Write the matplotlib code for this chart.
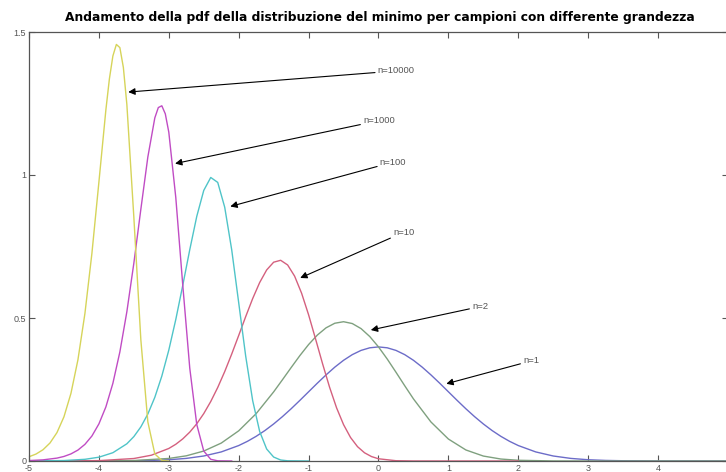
import matplotlib
matplotlib.use("Agg")
import matplotlib.pyplot as plt
import numpy as np

plt.rcParams['font.family'] = ['Liberation Sans', 'DejaVu Sans']
plt.rcParams['axes.unicode_minus'] = False

# pdf of the minimum of n standard normal samples, read at fixed abscissas
x_n1 = [-5, -4, -3.5, -3.25, -3, -2.75, -2.5, -2.25, -2, -1.875, -1.75, -1.625,
        -1.5, -1.375, -1.25, -1.125, -1, -0.875, -0.75, -0.625, -0.5, -0.375,
        -0.25, -0.125, 0, 0.125, 0.25, 0.375, 0.5, 0.625, 0.75, 0.875, 1, 1.125,
        1.25, 1.375, 1.5, 1.625, 1.75, 1.875, 2, 2.25, 2.5, 2.75, 3, 3.25, 3.5,
        4, 5]
y_n1 = [0.0, 0.0001, 0.0009, 0.0020, 0.0044, 0.0091, 0.0175, 0.0317, 0.0540,
        0.0688, 0.0863, 0.1065, 0.1295, 0.1550, 0.1826, 0.2119, 0.2420, 0.2721,
        0.3011, 0.3282, 0.3521, 0.3719, 0.3867, 0.3958, 0.3989, 0.3958, 0.3867,
        0.3719, 0.3521, 0.3282, 0.3011, 0.2721, 0.2420, 0.2119, 0.1826, 0.1550,
        0.1295, 0.1065, 0.0863, 0.0688, 0.0540, 0.0317, 0.0175, 0.0091, 0.0044,
        0.0020, 0.0009, 0.0001, 0.0]

x_n2 = [-5, -4, -3.5, -3, -2.75, -2.5, -2.25, -2, -1.75, -1.5, -1.375, -1.25,
        -1.125, -1, -0.875, -0.75, -0.625, -0.5, -0.375, -0.25, -0.125, 0,
        0.125, 0.25, 0.375, 0.5, 0.75, 1, 1.25, 1.5, 1.75, 2, 2.5, 3, 5]
y_n2 = [0.0, 0.0003, 0.0017, 0.0089, 0.0181, 0.0348, 0.0626, 0.1055, 0.1657,
        0.2417, 0.2838, 0.3266, 0.3685, 0.4072, 0.4403, 0.4657, 0.4817, 0.4870,
        0.4806, 0.4630, 0.4352, 0.3989, 0.3565, 0.3104, 0.2632, 0.2172, 0.1365,
        0.0768, 0.0386, 0.0173, 0.0069, 0.0025, 0.0002, 0.0, 0.0]

x_n10 = [-5, -4, -3.5, -3.25, -3, -2.9, -2.8, -2.7, -2.6, -2.5, -2.4, -2.3,
         -2.2, -2.1, -2, -1.9, -1.8, -1.7, -1.6, -1.5, -1.4, -1.3, -1.2, -1.1,
         -1, -0.9, -0.8, -0.7, -0.6, -0.5, -0.4, -0.3, -0.2, -0.1, 0, 0.25, 0.5,
         1, 2]
y_n10 = [0.0, 0.0013, 0.0087, 0.0202, 0.0438, 0.0585, 0.0774, 0.1010, 0.1302,
         0.1657, 0.2080, 0.2571, 0.3127, 0.3740, 0.4389, 0.5048, 0.5680, 0.6240,
         0.6680, 0.6951, 0.7018, 0.6855, 0.6463, 0.5865, 0.5111, 0.4264, 0.3399,
         0.2580, 0.1860, 0.1272, 0.0822, 0.0501, 0.0287, 0.0155, 0.0078, 0.0010,
         0.0001, 0.0, 0.0]

x_n100 = [-5, -4.5, -4.2, -4, -3.8, -3.6, -3.5, -3.4, -3.3, -3.2, -3.1, -3, -2.9,
          -2.8, -2.7, -2.6, -2.5, -2.4, -2.3, -2.2, -2.1, -2, -1.9, -1.8, -1.7,
          -1.6, -1.5, -1.4, -1.3, -1]
y_n100 = [0.0002, 0.0016, 0.0059, 0.0133, 0.0290, 0.0602, 0.0853, 0.1192, 0.1642,
          0.2227, 0.2968, 0.3877, 0.4948, 0.6145, 0.7389, 0.8553, 0.9460, 0.9914,
          0.9741, 0.8872, 0.7384, 0.5534, 0.3667, 0.2110, 0.1032, 0.0419, 0.0138,
          0.0035, 0.0007, 0.0]

x_n1000 = [-5, -4.8, -4.6, -4.5, -4.4, -4.3, -4.2, -4.1, -4, -3.9, -3.8, -3.7,
           -3.6, -3.5, -3.4, -3.3, -3.2, -3.15, -3.1, -3.05, -3, -2.9, -2.8,
           -2.7, -2.6, -2.5, -2.4, -2.3, -2.1]
y_n1000 = [0.0015, 0.0040, 0.0101, 0.0159, 0.0248, 0.0382, 0.0582, 0.0874, 0.1297,
           0.1893, 0.2716, 0.3814, 0.5220, 0.6917, 0.8800, 1.0627, 1.1998, 1.2358,
           1.2420, 1.2139, 1.1497, 0.9212, 0.6145, 0.3244, 0.1276, 0.0348, 0.0060,
           0.0006, 0.0]

x_n10000 = [-5, -4.9, -4.8, -4.7, -4.6, -4.5, -4.4, -4.3, -4.2, -4.1, -4, -3.9,
            -3.85, -3.8, -3.75, -3.7, -3.65, -3.6, -3.5, -3.4, -3.3, -3.2, -3.1, -3]
y_n10000 = [0.0148, 0.0243, 0.0393, 0.0629, 0.0993, 0.1545, 0.2363, 0.3538,
            0.5158, 0.7261, 0.9751, 1.2282, 1.3358, 1.4162, 1.4565, 1.4454, 1.3760,
            1.2466, 0.8522, 0.4241, 0.1369, 0.0247, 0.0020, 0.0]

curves = [(x_n1, y_n1), (x_n2, y_n2), (x_n10, y_n10),
          (x_n100, y_n100), (x_n1000, y_n1000), (x_n10000, y_n10000)]
colors = ['#6c6cc8', '#7fa07f', '#d4607e', '#4fc4c8', '#c04cc4', '#d6d45a']

labels = ['n=1', 'n=2', 'n=10', 'n=100', 'n=1000', 'n=10000']
# arrow tip on the curve, then where the label sits
arrow_tip = [(0.97, 0.27), (-0.11, 0.458), (-1.12, 0.64),
             (-2.12, 0.89), (-2.91, 1.04), (-3.58, 1.29)]
label_pos = [(2.07, 0.35), (1.34, 0.54), (0.21, 0.80),
             (0.02, 1.045), (-0.22, 1.19), (-0.01, 1.364)]


def main():
    fig = plt.figure(figsize=(7.26, 4.72), dpi=100)
    ax = fig.add_axes([29 / 726, 11 / 472, 699 / 726, 429 / 472])

    for (xs, ys), c in zip(curves, colors):
        ax.plot(xs, ys, color=c, lw=1.0)

    for lab, tip, pos in zip(labels, arrow_tip, label_pos):
        ax.annotate(lab, xy=tip, xytext=pos, fontsize=6.8, color='#555555',
                    ha='left', va='center',
                    arrowprops=dict(arrowstyle='-|>', color='black', lw=0.8,
                                    mutation_scale=10, shrinkA=0, shrinkB=0))

    ax.set_xlim(-5, 5)
    ax.set_ylim(0, 1.5)
    xt = np.arange(-5, 6, 1)
    ax.set_xticks(xt)
    # the last label falls past the right edge of the figure
    ax.set_xticklabels([str(v) for v in xt[:-1]] + [''])
    ax.set_yticks([0, 0.5, 1, 1.5])
    ax.set_yticklabels(['0', '0.5', '1', '1.5'])
    ax.tick_params(direction='in', top=True, right=True, length=4, width=0.8,
                   labelsize=6.5, labelcolor='#555555', color='#555555', pad=2)
    for s in ax.spines.values():
        s.set_color('#555555')
        s.set_linewidth(0.9)

    fig.text(0.523, 0.962,
             'Andamento della pdf della distribuzione del minimo per campioni con differente grandezza',
             ha='center', va='center', fontsize=8.8, fontweight='bold',
             family='DejaVu Sans')

    fig.savefig('out.png', dpi=100)


if __name__ == "__main__":
    main()
